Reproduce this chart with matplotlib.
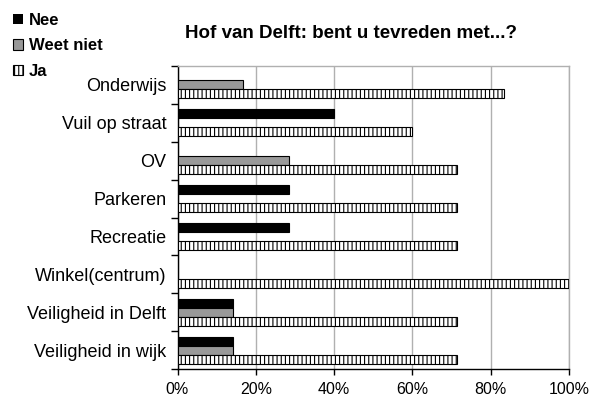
import matplotlib
matplotlib.use("Agg")
import matplotlib.pyplot as plt
import numpy as np

plt.rcParams['font.family'] = ['Liberation Sans', 'DejaVu Sans']
plt.rcParams['hatch.linewidth'] = 0.8

categories = ["Onderwijs", "Vuil op straat", "OV", "Parkeren", "Recreatie",
              "Winkel(centrum)", "Veiligheid in Delft", "Veiligheid in wijk"]
nee = [0, 40, 0, 28.6, 28.6, 0, 14.3, 14.3]
weet_niet = [16.7, 0, 28.6, 0, 0, 0, 14.3, 14.3]
ja = [83.3, 60, 71.4, 71.4, 71.4, 100, 71.4, 71.4]
series_labels = ["Nee", "Weet niet", "Ja"]
xticks = [0, 20, 40, 60, 80, 100]
title = "Hof van Delft: bent u tevreden met...?"

fig = plt.figure(figsize=(5.91, 4.01), dpi=100)
ax = fig.add_axes([177.5/591, 1-369/401, (569-177.5)/591, (369-66)/401])

y = np.arange(len(categories))
h = 0.238

def lw(vals):
    return [0.8 if v > 0 else 0 for v in vals]

b1 = ax.barh(y - h, nee, height=h, color='black', edgecolor='black',
             linewidth=lw(nee), label=series_labels[0], zorder=3)
b2 = ax.barh(y, weet_niet, height=h, color='#999999', edgecolor='black',
             linewidth=lw(weet_niet), label=series_labels[1], zorder=3)
b3 = ax.barh(y + h, ja, height=h, color='white', edgecolor='black', hatch='||||',
             linewidth=lw(ja), label=series_labels[2], zorder=3)

ax.set_xlim(0, 100)
ax.set_ylim(len(categories) - 0.5, -0.5)
ax.set_xticks(xticks)
ax.set_xticklabels([f"{t}%" for t in xticks], fontsize=11.5)
ax.set_yticks(y)
ax.set_yticklabels(categories, fontsize=13)
ax.set_yticks(np.arange(len(categories) + 1) - 0.5, minor=True)
ax.tick_params(axis='y', which='major', length=0, pad=8)
ax.tick_params(axis='y', which='minor', length=5, width=1, direction='out')
ax.tick_params(axis='x', which='major', length=4, width=1, direction='out', pad=5)

ax.grid(axis='x', color='#b0b0b0', linewidth=1, zorder=0)
ax.set_axisbelow(True)
for s in ['top', 'right']:
    ax.spines[s].set_color('#b0b0b0')
    ax.spines[s].set_linewidth(1)
for s in ['left', 'bottom']:
    ax.spines[s].set_color('black')
    ax.spines[s].set_linewidth(1)

fig.text(351/591, 1-34/401, title, fontsize=13.5, fontweight='bold', ha='center', va='center')

leg = fig.legend(handles=[b1, b2, b3], loc='upper left', bbox_to_anchor=(13/591, 1-13/401),
                 frameon=False, handlelength=0.6, handleheight=0.6, handletextpad=0.35,
                 labelspacing=0.62, borderpad=0, borderaxespad=0,
                 prop={'weight': 'bold', 'size': 12})

fig.savefig("out.png", dpi=100)
